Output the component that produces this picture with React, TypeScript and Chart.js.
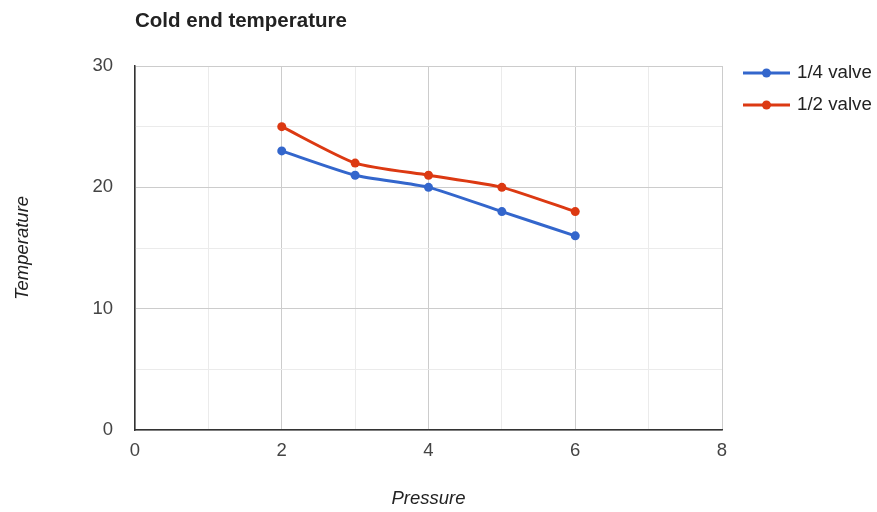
import React, { useEffect, useRef } from "react";
import { Chart, registerables } from "chart.js";

Chart.register(...registerables);

const chartTitle = "Cold end temperature";
const xAxisTitle = "Pressure";
const yAxisTitle = "Temperature";
const pressure = [2, 3, 4, 5, 6];
const quarterValve = [23, 21, 20, 18, 16];
const halfValve = [25, 22, 21, 20, 18];
const seriesNames = ["1/4 valve", "1/2 valve"];
const seriesColors = ["#3366cc", "#dc3912"];
const xMin = 0, xMax = 8, xStep = 1;
const yMin = 0, yMax = 30, yStep = 5;

const FONT = "'Liberation Sans', Arial, sans-serif";

const overlayPlugin = {
  id: "overlay",
  afterDraw(chart: any) {
    const { ctx, chartArea } = chart;
    ctx.save();
    // title
    ctx.font = `bold 20.5px ${FONT}`;
    ctx.fillStyle = "#222";
    ctx.textAlign = "left";
    ctx.textBaseline = "middle";
    ctx.fillText(chartTitle, chartArea.left, 21);
    // legend
    ctx.font = `18.7px ${FONT}`;
    chart.data.datasets.forEach((ds: any, i: number) => {
      const y = 73 + i * 32;
      const x0 = chartArea.right + 21;
      ctx.strokeStyle = ds.borderColor;
      ctx.lineWidth = 3;
      ctx.beginPath();
      ctx.moveTo(x0, y);
      ctx.lineTo(x0 + 47, y);
      ctx.stroke();
      ctx.fillStyle = ds.borderColor;
      ctx.beginPath();
      ctx.arc(x0 + 23.5, y, 4.5, 0, Math.PI * 2);
      ctx.fill();
      ctx.fillStyle = "#222";
      ctx.fillText(ds.label, x0 + 54, y);
    });
    ctx.restore();
  },
};

export default function App() {
  const ref = useRef<HTMLCanvasElement>(null);
  useEffect(() => {
    const mk = (vals: number[]) => pressure.map((x, i) => ({ x, y: vals[i] }));
    const chart = new Chart(ref.current!, {
      type: "line",
      data: {
        datasets: [quarterValve, halfValve].map((vals, i) => ({
          label: seriesNames[i],
          data: mk(vals),
          borderColor: seriesColors[i],
          backgroundColor: seriesColors[i],
          borderWidth: 3,
          pointRadius: 4.5,
          pointHoverRadius: 4.5,
          pointBorderWidth: 0,
          tension: 0.2,
          fill: false,
        })),
      },
      options: {
        animation: false,
        responsive: false,
        events: [],
        layout: { padding: { left: 0, right: 155, top: 66, bottom: 2 } },
        plugins: {
          legend: { display: false },
          title: { display: false },
          tooltip: { enabled: false },
        },
        scales: {
          x: {
            type: "linear",
            min: xMin,
            max: xMax,
            afterFit(scale: any) {
              scale.height = 80;
            },
            ticks: {
              stepSize: xStep,
              autoSkip: false,
              maxRotation: 0,
              padding: 10,
              color: "#444",
              font: { family: FONT, size: 18.5 },
              callback: (v: any) => (Number(v) % 2 === 0 ? String(v) : ""),
            },
            grid: {
              drawTicks: false,
              color: (c: any) => (c.tick && c.tick.value % 2 === 0 ? "#cccccc" : "#ebebeb"),
              lineWidth: 1,
            },
            border: { display: true, color: "#333", width: 1.5 },
            title: {
              display: true,
              text: xAxisTitle,
              color: "#222",
              font: { family: FONT, size: 18.5, style: "italic" },
              padding: { top: 0, bottom: 0 },
            },
          },
          y: {
            type: "linear",
            min: yMin,
            max: yMax,
            afterFit(scale: any) {
              scale.width = 135;
            },
            ticks: {
              stepSize: yStep,
              autoSkip: false,
              padding: 22,
              color: "#444",
              font: { family: FONT, size: 18.5 },
              callback: (v: any) => (Number(v) % 10 === 0 ? String(v) : ""),
            },
            grid: {
              drawTicks: false,
              color: (c: any) => (c.tick && c.tick.value % 10 === 0 ? "#cccccc" : "#ebebeb"),
              lineWidth: 1,
            },
            border: { display: true, color: "#333", width: 1.5 },
            title: {
              display: true,
              text: yAxisTitle,
              color: "#222",
              font: { family: FONT, size: 18.5, style: "italic" },
              padding: { top: 12, bottom: 0 },
            },
          },
        },
      },
      plugins: [overlayPlugin],
    } as any);
    return () => chart.destroy();
  }, []);
  return (
    <div style={{ position: "fixed", left: 0, top: 0, width: 877, height: 512, background: "#fff" }}>
      <canvas ref={ref} width={877} height={512} style={{ width: 877, height: 512 }} />
    </div>
  );
}
